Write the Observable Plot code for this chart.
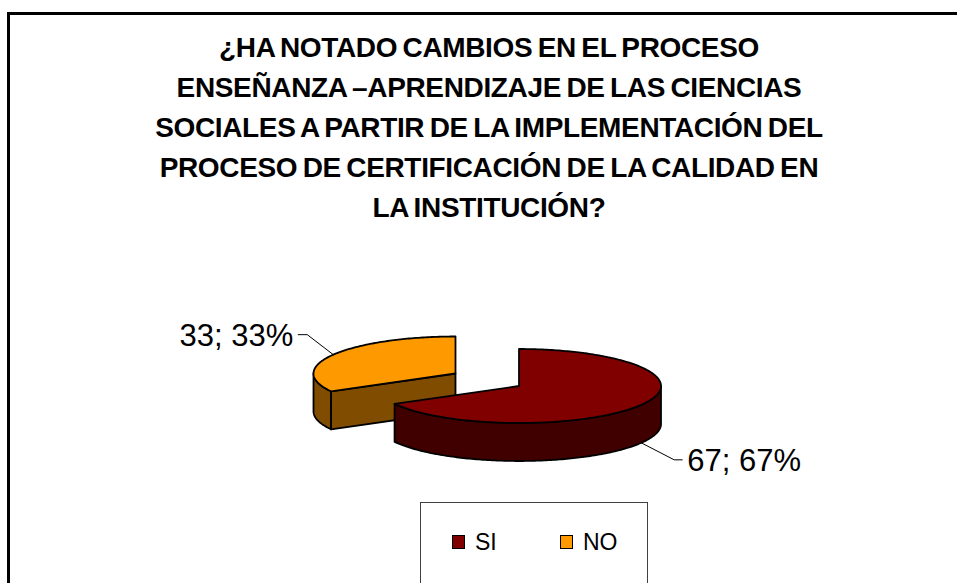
<!DOCTYPE html>
<html>
<head>
<meta charset="utf-8">
<script src="https://cdn.jsdelivr.net/npm/d3@7"></script>
<script src="https://cdn.jsdelivr.net/npm/@observablehq/plot@0.6"></script>
<style>
  html, body { margin: 0; padding: 0; background: #fff; }
  body { width: 957px; height: 583px; overflow: hidden; position: relative; font-family: "Liberation Sans", Arial, sans-serif; }
  #frame { position: absolute; left: 7px; top: 12px; width: 1200px; height: 900px; border: 3px solid #000; box-sizing: border-box; }
  #title { position: absolute; left: 0; top: 28px; width: 978px; text-align: center; font-weight: bold; font-size: 28px; letter-spacing: -0.35px; word-spacing: -2px; line-height: 40px; color: #000; }
  #chart { position: absolute; left: 0; top: 0; }
  #legend { position: absolute; left: 420px; top: 502px; width: 228px; height: 200px; border: 1px solid #404040; box-sizing: border-box; background: #fff; }
  .item { position: absolute; top: 24px; font-size: 23px; line-height: 30px; display: flex; align-items: center; }
  .sw { width: 13px; height: 14px; border: 1.5px solid #000; box-sizing: border-box; margin-right: 10px; }
</style>
</head>
<body>
<div id="frame"></div>
<div id="title"></div>
<div id="chart"></div>
<div id="legend"></div>
<script>
// ---- data ----
const titleLines = [
  "¿HA NOTADO CAMBIOS EN EL PROCESO",
  "ENSEÑANZA –APRENDIZAJE DE LAS CIENCIAS",
  "SOCIALES A PARTIR DE LA IMPLEMENTACIÓN DEL",
  "PROCESO DE CERTIFICACIÓN DE LA CALIDAD EN",
  "LA INSTITUCIÓN?"
];
const categories = ["SI", "NO"];
const values = [67, 33];

// ---- styles / layout ----
const topColors = {SI: "#800000", NO: "#FF9900"};
const sideColors = {SI: "#400000", NO: "#804C00"};
const W = 957, H = 583;
const cx = 518.5, cy = 385.5, rx = 142, ry = 37, depth = 38;
const explode = {SI: [0, 0], NO: [-63.5, -12.5]};
const labelLayout = {SI: {dx: 33, dy: 17, h: 8, gap: 5}, NO: {dx: -26, dy: -20, h: -9, gap: 5}};

document.getElementById("title").innerHTML = titleLines.join("<br>");

const total = d3.sum(values);
let acc = 0;
const slices = categories.map((c, i) => {
  const a0 = acc / total * 2 * Math.PI;
  acc += values[i];
  const a1 = acc / total * 2 * Math.PI;
  const [ox, oy] = explode[c];
  return {cat: c, value: values[i], pct: Math.round(values[i] / total * 100), a0, a1, x0: cx + ox, y0: cy + oy};
});

function P(s, a, dz = 0) { return {x: s.x0 + rx * Math.sin(a), y: s.y0 - ry * Math.cos(a) + dz}; }
function arcPts(s, a, b, dz = 0) {
  const n = Math.max(2, Math.ceil(Math.abs(b - a) * 60));
  return d3.range(n + 1).map(k => P(s, a + (b - a) * k / n, dz));
}

const faces = [];
const order = slices.slice().sort((a, b) => a.y0 - b.y0);
for (const s of order) {
  const w0 = Math.max(s.a0, Math.PI / 2), w1 = Math.min(s.a1, 3 * Math.PI / 2);
  if (w1 > w0) {
    const topE = arcPts(s, w0, w1);
    const botE = arcPts(s, w0, w1, depth).reverse();
    faces.push({pts: topE.concat(botE), fill: sideColors[s.cat]});
  }
  const c = {x: s.x0, y: s.y0}, cd = {x: s.x0, y: s.y0 + depth};
  if (Math.sin(s.a0) < -1e-9) {
    faces.push({pts: [c, P(s, s.a0), P(s, s.a0, depth), cd], fill: sideColors[s.cat]});
  }
  if (Math.sin(s.a1) > 1e-9) {
    faces.push({pts: [c, P(s, s.a1), P(s, s.a1, depth), cd], fill: sideColors[s.cat]});
  }
  faces.push({pts: [c].concat(arcPts(s, s.a0, s.a1)), fill: topColors[s.cat]});
}

const leaders = [], labels = [];
for (const s of slices) {
  const mid = (s.a0 + s.a1) / 2;
  const anchor = P(s, mid, Math.cos(mid) < 0 ? depth : 0);
  const L = labelLayout[s.cat];
  const elbow = {x: anchor.x + L.dx, y: anchor.y + L.dy};
  const end = {x: elbow.x + L.h, y: elbow.y};
  leaders.push([anchor, elbow, end]);
  const right = L.h > 0;
  labels.push({x: end.x + (right ? L.gap : -L.gap), y: end.y + 1, text: `${s.value}; ${s.pct}%`, anchor: right ? "start" : "end"});
}

const marks = [];
for (const f of faces) {
  marks.push(Plot.line(f.pts, {x: "x", y: "y", fill: f.fill, stroke: "#000", strokeWidth: 1.8, strokeLinejoin: "round", curve: "linear-closed"}));
}
for (const l of leaders) {
  marks.push(Plot.line(l, {x: "x", y: "y", stroke: "#000", strokeWidth: 1}));
}
for (const t of labels) {
  marks.push(Plot.text([t], {x: "x", y: "y", text: "text", textAnchor: t.anchor, fontSize: 31, fill: "#000"}));
}

const chart = Plot.plot({
  width: W, height: H, margin: 0,
  x: {domain: [0, W], range: [0, W], axis: null},
  y: {domain: [0, H], range: [0, H], axis: null},
  style: {fontFamily: "'Liberation Sans', Arial, sans-serif", background: "transparent", overflow: "visible"},
  marks
});
document.getElementById("chart").appendChild(chart);

const leg = document.getElementById("legend");
const legX = {SI: 31, NO: 139};
categories.forEach(c => {
  const it = document.createElement("div");
  it.className = "item";
  it.style.left = legX[c] + "px";
  it.innerHTML = `<span class="sw" style="background:${topColors[c]}"></span><span>${c}</span>`;
  leg.appendChild(it);
});
</script>
</body>
</html>
